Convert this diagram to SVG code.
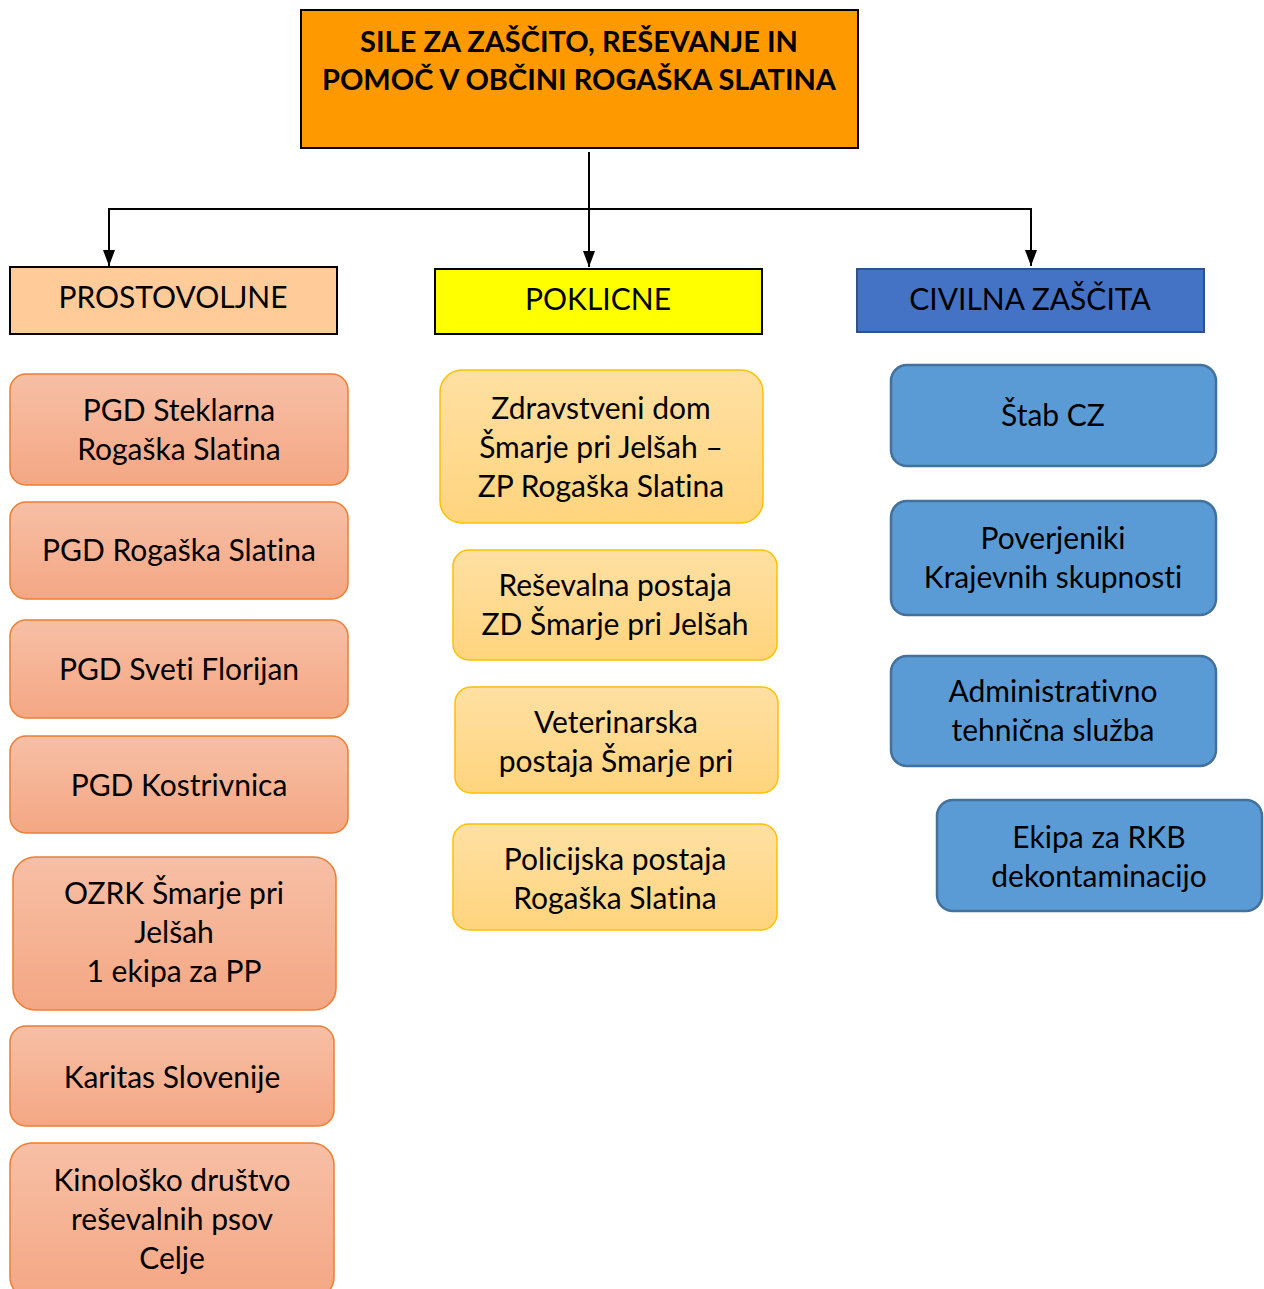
<svg xmlns="http://www.w3.org/2000/svg" width="1264" height="1289" viewBox="0 0 1264 1289">
<defs>
<linearGradient id="gOr" x1="0" y1="0" x2="0" y2="1">
<stop offset="0" stop-color="#F7BFA5"/>
<stop offset="1" stop-color="#F4A784"/>
</linearGradient>
<linearGradient id="gYe" x1="0" y1="0" x2="0" y2="1">
<stop offset="0" stop-color="#FFE0A3"/>
<stop offset="1" stop-color="#FFD47D"/>
</linearGradient>
<marker id="arr" viewBox="0 0 16 12" refX="16" refY="6" markerWidth="16" markerHeight="12" markerUnits="userSpaceOnUse" orient="auto">
<path d="M0,0 L16,6 L0,12 Z" fill="#000"/>
</marker>
</defs>
<style>
text{font-family:Lato,"Open Sans","Noto Sans",sans-serif;font-size:30px;fill:#000;text-anchor:middle;font-variant-ligatures:none}
.title{font-weight:bold;font-size:29px}
.hdr{stroke:#000;stroke-width:2}
.vol{fill:url(#gOr);stroke:#ED7D31;stroke-width:1.5}
.pro{fill:url(#gYe);stroke:#FFC000;stroke-width:1.5}
.cz{fill:#5B9BD5;stroke:#41719C;stroke-width:2.5}
.con{fill:none;stroke:#000;stroke-width:2}
</style>
<g id="connectors">
<line class="con" x1="108" y1="209" x2="1032" y2="209"/>
<line class="con" x1="589" y1="152" x2="589" y2="267" marker-end="url(#arr)"/>
<line class="con" x1="109" y1="209" x2="109" y2="266" marker-end="url(#arr)"/>
<line class="con" x1="1031" y1="209" x2="1031" y2="266" marker-end="url(#arr)"/>
</g>
<g id="title">
<rect x="301" y="10" width="557" height="138" fill="#FF9900" class="hdr"/>
<text class="title" x="579" y="52">SILE ZA ZAŠČITO, REŠEVANJE IN</text>
<text class="title" x="579" y="90">POMOČ V OBČINI ROGAŠKA SLATINA</text>
</g>
<g id="prostovoljne">
<rect x="10" y="267" width="327" height="67" fill="#FFCC99" class="hdr"/>
<text x="173" y="308">PROSTOVOLJNE</text>
</g>
<g id="poklicne">
<rect x="435" y="269" width="327" height="65" fill="#FFFF00" class="hdr"/>
<text x="598" y="310">POKLICNE</text>
</g>
<g id="civilna">
<rect x="857" y="269" width="347" height="63" fill="#4472C4" stroke="#2F528F" stroke-width="2"/>
<text x="1030" y="310">CIVILNA ZAŠČITA</text>
</g>
<g id="v1">
<rect class="vol" x="10" y="374" width="338" height="111" rx="16"/>
<text x="179" y="421">PGD Steklarna</text>
<text x="179" y="460">Rogaška Slatina</text>
</g>
<g id="v2">
<rect class="vol" x="10" y="502" width="338" height="97" rx="16"/>
<text x="179" y="561">PGD Rogaška Slatina</text>
</g>
<g id="v3">
<rect class="vol" x="10" y="620" width="338" height="98" rx="16"/>
<text x="179" y="680">PGD Sveti Florijan</text>
</g>
<g id="v4">
<rect class="vol" x="10" y="736" width="338" height="97" rx="16"/>
<text x="179" y="796">PGD Kostrivnica</text>
</g>
<g id="v5">
<rect class="vol" x="13" y="857" width="323" height="153" rx="22"/>
<text x="174" y="904">OZRK Šmarje pri</text>
<text x="174" y="943">Jelšah</text>
<text x="174" y="982">1 ekipa za PP</text>
</g>
<g id="v6">
<rect class="vol" x="10" y="1026" width="324" height="100" rx="16"/>
<text x="172" y="1088">Karitas Slovenije</text>
</g>
<g id="v7">
<rect class="vol" x="10" y="1143" width="324" height="156" rx="22"/>
<text x="172" y="1191">Kinološko društvo</text>
<text x="172" y="1230">reševalnih psov</text>
<text x="172" y="1269">Celje</text>
</g>
<g id="p1">
<rect class="pro" x="440" y="370" width="323" height="153" rx="22"/>
<text x="601" y="419">Zdravstveni dom</text>
<text x="601" y="458">Šmarje pri Jelšah –</text>
<text x="601" y="497">ZP Rogaška Slatina</text>
</g>
<g id="p2">
<rect class="pro" x="453" y="550" width="324" height="110" rx="16"/>
<text x="615" y="596">Reševalna postaja</text>
<text x="615" y="635">ZD Šmarje pri Jelšah</text>
</g>
<g id="p3">
<rect class="pro" x="455" y="687" width="323" height="106" rx="16"/>
<text x="616" y="733">Veterinarska</text>
<text x="616" y="772">postaja Šmarje pri</text>
</g>
<g id="p4">
<rect class="pro" x="453" y="824" width="324" height="106" rx="16"/>
<text x="615" y="870">Policijska postaja</text>
<text x="615" y="909">Rogaška Slatina</text>
</g>
<g id="c1">
<rect class="cz" x="891" y="365" width="325" height="101" rx="16"/>
<text x="1053" y="426">Štab CZ</text>
</g>
<g id="c2">
<rect class="cz" x="891" y="501" width="325" height="114" rx="16"/>
<text x="1053" y="549">Poverjeniki</text>
<text x="1053" y="588">Krajevnih skupnosti</text>
</g>
<g id="c3">
<rect class="cz" x="891" y="656" width="325" height="110" rx="16"/>
<text x="1053" y="702">Administrativno</text>
<text x="1053" y="741">tehnična služba</text>
</g>
<g id="c4">
<rect class="cz" x="937" y="800" width="325" height="111" rx="16"/>
<text x="1099" y="848">Ekipa za RKB</text>
<text x="1099" y="887">dekontaminacijo</text>
</g>
</svg>
